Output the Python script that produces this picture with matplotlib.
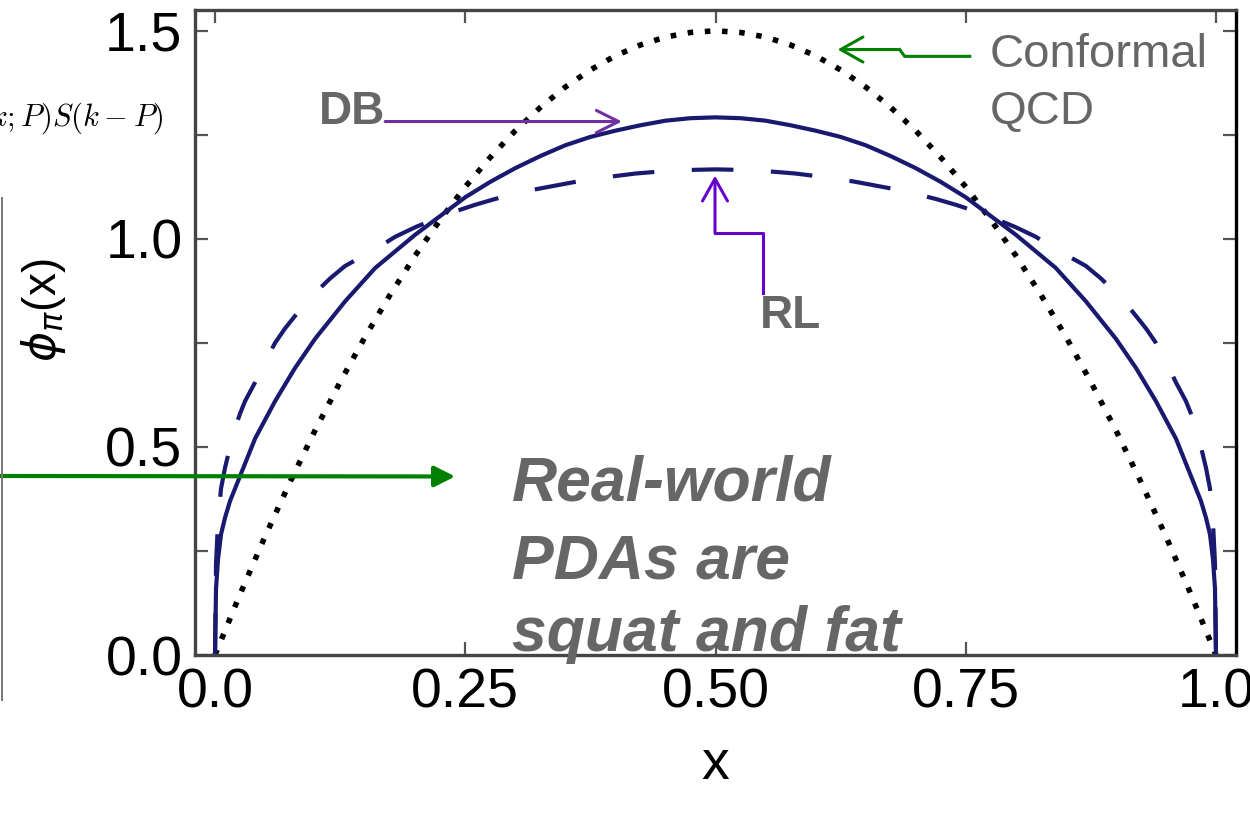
import matplotlib
matplotlib.use('Agg')
import matplotlib.pyplot as plt
from matplotlib.lines import Line2D

# --- data ---
# conformal QCD limit (dotted)
conf_x = [0, 0.025, 0.05, 0.075, 0.1, 0.125, 0.15, 0.175, 0.2, 0.225, 0.25, 0.275, 0.3, 0.325,
          0.35, 0.375, 0.4, 0.425, 0.45, 0.475, 0.5, 0.525, 0.55, 0.575, 0.6, 0.625, 0.65, 0.675,
          0.7, 0.725, 0.75, 0.775, 0.8, 0.825, 0.85, 0.875, 0.9, 0.925, 0.95, 0.975, 1.0]
conf_y = [0, 0.146, 0.285, 0.416, 0.54, 0.656, 0.765, 0.866, 0.96, 1.046, 1.125, 1.196, 1.26, 1.316,
          1.365, 1.406, 1.44, 1.466, 1.485, 1.496, 1.5, 1.496, 1.485, 1.466, 1.44, 1.406, 1.365, 1.316,
          1.26, 1.196, 1.125, 1.046, 0.96, 0.866, 0.765, 0.656, 0.54, 0.416, 0.285, 0.146, 0]

# DB (solid)
db_x = [0, 0.001, 0.003, 0.006, 0.01, 0.015, 0.02, 0.03, 0.04, 0.05, 0.06, 0.07, 0.08, 0.09, 0.1,
        0.115, 0.13, 0.145, 0.16, 0.18, 0.2, 0.225, 0.25, 0.275, 0.3, 0.325, 0.35, 0.375, 0.4,
        0.425, 0.45, 0.475, 0.5,
        0.525, 0.55, 0.575, 0.6, 0.625, 0.65, 0.675, 0.7, 0.725, 0.75, 0.775, 0.8, 0.82, 0.84,
        0.855, 0.87, 0.885, 0.9, 0.91, 0.92, 0.93, 0.94, 0.95, 0.96, 0.97, 0.98, 0.985, 0.99,
        0.994, 0.997, 0.999, 1.0]
db_y = [0, 0.16, 0.23, 0.29, 0.33, 0.37, 0.40, 0.46, 0.52, 0.565, 0.61, 0.65, 0.69, 0.725, 0.76,
        0.805, 0.85, 0.89, 0.93, 0.97, 1.01, 1.055, 1.10, 1.137, 1.17, 1.199, 1.225, 1.245, 1.26,
        1.273, 1.284, 1.29, 1.292,
        1.29, 1.284, 1.273, 1.26, 1.245, 1.225, 1.199, 1.17, 1.137, 1.10, 1.055, 1.01, 0.97, 0.93,
        0.89, 0.85, 0.805, 0.76, 0.725, 0.69, 0.65, 0.61, 0.565, 0.52, 0.46, 0.40, 0.37, 0.33,
        0.29, 0.23, 0.16, 0]

# RL (dashed)
rl_x = [0, 0.001, 0.003, 0.006, 0.01, 0.015, 0.02, 0.025, 0.03, 0.04, 0.05, 0.06, 0.07, 0.085,
        0.1, 0.115, 0.13, 0.145, 0.16, 0.18, 0.2, 0.22, 0.24, 0.26, 0.28, 0.3, 0.32, 0.34, 0.36,
        0.38, 0.4, 0.42, 0.44, 0.46, 0.48, 0.5,
        0.52, 0.54, 0.56, 0.58, 0.6, 0.62, 0.64, 0.66, 0.68, 0.7, 0.72, 0.74, 0.76, 0.78, 0.8,
        0.82, 0.84, 0.855, 0.87, 0.885, 0.9, 0.915, 0.93, 0.94, 0.95, 0.96, 0.97, 0.975, 0.98,
        0.985, 0.99, 0.994, 0.997, 0.999, 1.0]
rl_y = [0, 0.22, 0.32, 0.40, 0.45, 0.50, 0.545, 0.58, 0.61, 0.655, 0.705, 0.75, 0.785, 0.83,
        0.87, 0.905, 0.935, 0.955, 0.975, 1.005, 1.028, 1.048, 1.066, 1.082, 1.096, 1.108, 1.119,
        1.128, 1.137, 1.145, 1.151, 1.157, 1.161, 1.164, 1.166, 1.167,
        1.166, 1.164, 1.161, 1.157, 1.151, 1.145, 1.137, 1.128, 1.119, 1.108, 1.096, 1.082, 1.066,
        1.048, 1.028, 1.005, 0.975, 0.955, 0.935, 0.905, 0.87, 0.83, 0.785, 0.75, 0.705, 0.655,
        0.61, 0.58, 0.545, 0.50, 0.45, 0.40, 0.32, 0.22, 0]

x_ticks = [0, 0.25, 0.5, 0.75, 1.0]
x_ticklabels = ['0.0', '0.25', '0.50', '0.75', '1.0']
y_ticks = [0, 0.5, 1.0, 1.5]
y_ticklabels = ['0.0', '0.5', '1.0', '1.5']

W, H = 1250, 814
plt.rcParams['font.family'] = ['Liberation Sans', 'DejaVu Sans']

fig = plt.figure(figsize=(W / 100, H / 100), dpi=100)
ax = fig.add_axes([195 / W, 1 - 655 / H, (1236 - 195) / W, (655 - 10) / H])

navy = '#191970'
ax.plot(conf_x, conf_y, color='black', lw=4.0, linestyle=(0, (1, 2.1)))
ax.plot(db_x, db_y, color=navy, lw=3)
ax.plot(rl_x, rl_y, color=navy, lw=3, linestyle=(0, (10, 9)))

ax.set_xlim(-0.02, 1.02)
ax.set_ylim(0, 1.55)
ax.set_xticks(x_ticks)
ax.set_xticklabels(x_ticklabels)
ax.set_yticks(y_ticks)
ax.set_yticklabels(y_ticklabels)
ax.set_yticks([0.25, 0.75, 1.25], minor=True)
ax.tick_params(which='both', direction='in', length=9.5, width=1.6, color='#555555',
               top=True, right=True, labelsize=40, pad=9)

for name, sp in ax.spines.items():
    sp.set_linewidth(2.4)
    sp.set_color('#444444')
ax.spines['right'].set_color('black')

# axis labels (placed as in the slide)
fig.text(715 / W, 1 - 765 / H, 'x', ha='center', va='center', fontsize=40)
fig.text(43 / W, 1 - 310 / H, r'$\phi_\pi$(x)', rotation=90, ha='center', va='center',
         fontsize=33, math_fontfamily='dejavusans')

gray = '#666666'
purple = '#7030a0'
violet = '#6600cc'
green = '#008000'

# DB label and arrow
ax.annotate('', xy=(0.4066, 1.282), xytext=(0.17, 1.282),
            arrowprops=dict(arrowstyle='->,head_length=0.8,head_width=0.4', color=purple,
                            lw=2.2, shrinkA=0, shrinkB=0, mutation_scale=20))
ax.text(0.17, 1.277, 'DB', ha='right', va='baseline', fontsize=33, fontweight='bold', color=gray)

# RL label and bent arrow
ax.plot([0.5475, 0.5475, 0.4995], [0.870, 1.0145, 1.0145], color=violet, lw=2.2)
ax.annotate('', xy=(0.4995, 1.152), xytext=(0.4995, 1.0145),
            arrowprops=dict(arrowstyle='->,head_length=0.8,head_width=0.45', color=violet,
                            lw=2.2, shrinkA=0, shrinkB=0, mutation_scale=20))
ax.text(0.5445, 0.786, 'RL', ha='left', va='baseline', fontsize=33, fontweight='bold', color=gray)

# Conformal QCD label and arrow
ax.plot([0.754, 0.689, 0.684], [1.4386, 1.4386, 1.455], color=green, lw=2.2)
ax.annotate('', xy=(0.622, 1.455), xytext=(0.684, 1.455),
            arrowprops=dict(arrowstyle='->,head_length=0.8,head_width=0.45', color=green,
                            lw=2.2, shrinkA=0, shrinkB=0, mutation_scale=20))
ax.text(0.774, 1.412, 'Conformal', ha='left', va='baseline', fontsize=34, color=gray)
ax.text(0.774, 1.275, 'QCD', ha='left', va='baseline', fontsize=34, color=gray)

# green arrow coming in from the left
ax.annotate('', xy=(0.24, 0.429), xycoords='data', xytext=(0, 1 - 476 / H),
            textcoords='figure fraction', annotation_clip=False,
            arrowprops=dict(arrowstyle='-|>,head_length=0.7,head_width=0.35', color=green,
                            lw=3, shrinkA=0, shrinkB=0, mutation_scale=18, clip_on=False))

# bold italic comment
for line, yb in zip(['Real-world', 'PDAs are', 'squat and fat'], [0.371, 0.183, 0.0096]):
    ax.text(0.2967, yb, line, ha='left', va='baseline', fontsize=45, fontweight='bold',
            style='italic', color=gray, zorder=5, clip_on=False)

# leftovers of the neighbouring slide content
fig.text(164 / W, 1 - 118 / H, r'$\Gamma(k;P)S(k-P)$', ha='right', va='center',
         fontsize=22, math_fontfamily='cm')
fig.add_artist(Line2D([2 / W, 2 / W], [1 - 198 / H, 1 - 700 / H], color='#777777', lw=1.4))

fig.savefig('out.png', dpi=100)
